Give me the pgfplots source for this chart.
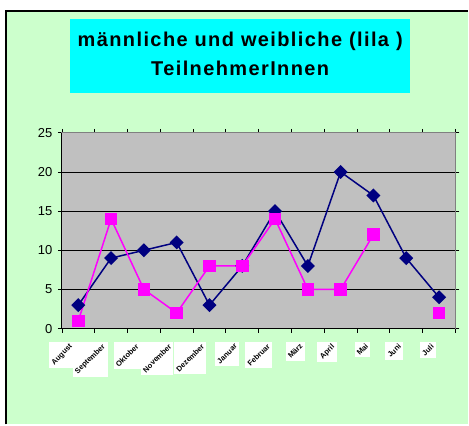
\documentclass[border=0pt]{standalone}
\usepackage{fontspec}
\setmainfont{Liberation Sans}
\usepackage{graphicx}
\usepackage{pgfplots}
\pgfplotsset{compat=1.18}
\definecolor{bggreen}{HTML}{CCFFCC}
\definecolor{plotgray}{HTML}{C0C0C0}
\definecolor{navyline}{HTML}{000080}
\definecolor{lila}{HTML}{FF00FF}
\definecolor{titlecyan}{HTML}{00FFFF}

\begin{document}
\begin{tikzpicture}[x=1pt,y=1pt]
% frame and title box (1pt = 1px of the reference)
\fill[white] (-62,-96) rectangle (407,329);
\fill[bggreen] (-56,-96) rectangle (407,318);
\draw[black, line width=1.2pt] (-56,-96) -- (-56,318) -- (407,318);
\fill[titlecyan] (8,236) rectangle (349,310);
\node[font=\fontsize{20}{29}\selectfont\bfseries\addfontfeature{LetterSpace=7}, align=center]
  at (178.5,275) {männliche und weibliche (lila )\\TeilnehmerInnen};

\begin{axis}[
  at={(0,0)}, anchor=south west,
  scale only axis, width=394pt, height=196pt,
  xmin=0.5, xmax=12.5, ymin=0, ymax=25,
  axis background/.style={fill=plotgray},
  axis line style={draw=gray, line width=1pt},
  ytick={0,5,...,25}, ymajorgrids,
  grid style={black, line width=0.8pt},
  xtick={0.5,1.5,...,12.5}, xticklabels={},
  tick align=outside, major tick length=4pt,
  tick style={black, line width=0.8pt},
  yticklabel style={font=\fontsize{13}{13}\selectfont, xshift=-2pt},
  /pgf/number format/assume math mode=true,
  extra x ticks={1,...,12},
  extra x tick labels={
    \rotatebox{45}{August},\rotatebox{45}{September},\rotatebox{45}{Oktober},
    \rotatebox{45}{November},\rotatebox{45}{Dezember},\rotatebox{45}{Januar},
    \rotatebox{45}{Februar},\rotatebox{45}{März},\rotatebox{45}{April},
    \rotatebox{45}{Mai},\rotatebox{45}{Juni},\rotatebox{45}{Juli}},
  extra x tick style={major tick length=0pt, grid=none,
    tick label style={fill=white, inner sep=1.5pt, anchor=north east,
      xshift=-3pt, yshift=-13pt, font=\fontsize{7.5}{7.5}\selectfont\bfseries}},
  unbounded coords=jump,
  clip=false,
]
\addplot[navyline, line width=1.5pt, mark=square*, mark size=4.2pt,
  mark options={rotate=45, fill=navyline, solid}]
  coordinates {(1,3)(2,9)(3,10)(4,11)(5,3)(6,8)(7,15)(8,8)(9,20)(10,17)(11,9)(12,4)};
\addplot[lila, line width=1.5pt, mark=square*, mark size=5.5pt,
  mark options={fill=lila, solid}]
  coordinates {(1,1)(2,14)(3,5)(4,2)(5,8)(6,8)(7,14)(8,5)(9,5)(10,12)(11,nan)(12,2)};
\draw[gray, line width=1pt] (rel axis cs:0,1) -- (rel axis cs:1,1) -- (rel axis cs:1,0);
\draw[black, line width=1pt] (rel axis cs:0,1) -- (rel axis cs:0,0) -- (rel axis cs:1,0);
\end{axis}
\end{tikzpicture}
\end{document}
